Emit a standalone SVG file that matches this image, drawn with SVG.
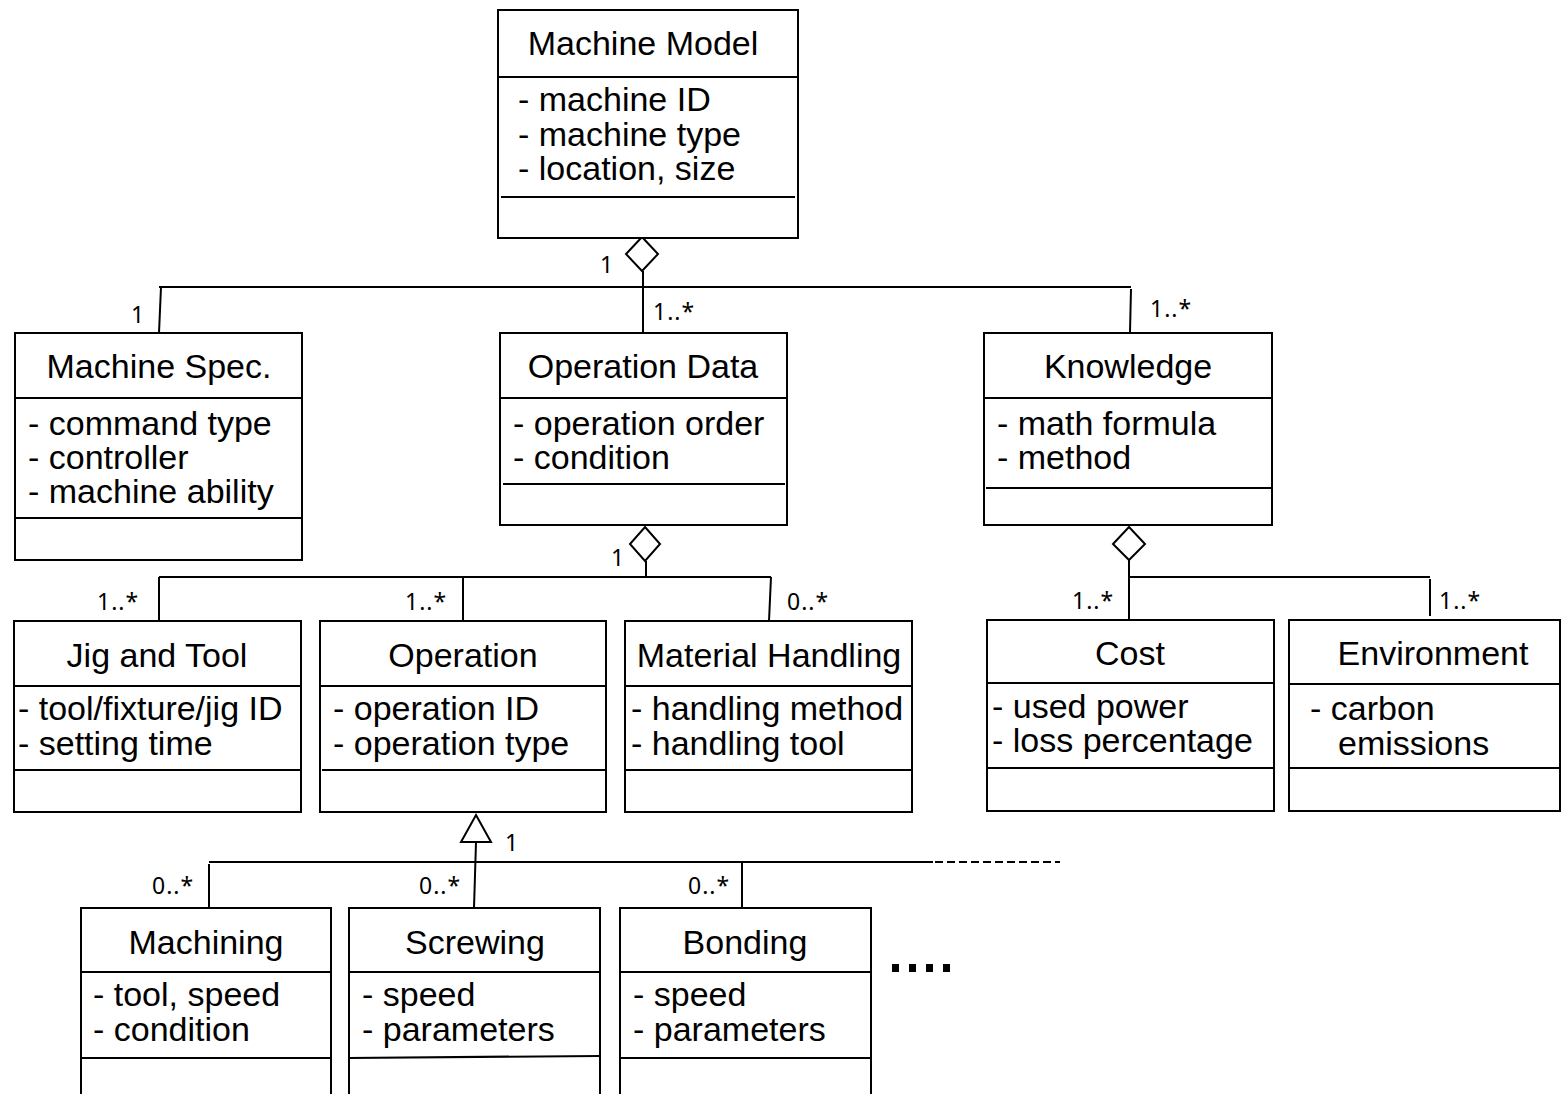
<svg xmlns="http://www.w3.org/2000/svg" width="1561" height="1094" viewBox="0 0 1561 1094">
<style>
.box{fill:#fff;stroke:#000;stroke-width:2}
.dv{stroke:#000;stroke-width:2.2}
.ln{stroke:#000;stroke-width:2;fill:none}
.t{font-family:"Liberation Sans",Arial,sans-serif;font-size:34px;fill:#000}
.c{text-anchor:middle}
.m{font-family:"Noto Sans","Liberation Sans",sans-serif;font-size:23px;fill:#000;letter-spacing:1px}
.hd{fill:#fff;stroke:#000;stroke-width:2}
</style>
<rect width="1561" height="1094" fill="#fff"/>

<g id="connectors">
  <!-- Machine Model aggregation -->
  <polygon class="hd" points="642,237 658,254 642,271 626,254"/>
  <line class="ln" x1="643" y1="271" x2="643" y2="333"/>
  <line class="ln" x1="159" y1="287" x2="1131" y2="287"/>
  <line class="ln" x1="161" y1="287" x2="159" y2="333"/>
  <line class="ln" x1="1131" y1="289" x2="1130" y2="332"/>
  <!-- Operation Data aggregation -->
  <polygon class="hd" points="645,527 660,544 645,561 630,544"/>
  <line class="ln" x1="646" y1="561" x2="646" y2="577"/>
  <line class="ln" x1="159" y1="577" x2="771" y2="577"/>
  <line class="ln" x1="159" y1="577" x2="159" y2="621"/>
  <line class="ln" x1="463" y1="577" x2="463" y2="621"/>
  <line class="ln" x1="771" y1="577" x2="769" y2="621"/>
  <!-- Knowledge aggregation -->
  <polygon class="hd" points="1129,527 1145,544 1129,560 1113,544"/>
  <line class="ln" x1="1129" y1="560" x2="1129" y2="620"/>
  <line class="ln" x1="1129" y1="577" x2="1430" y2="577"/>
  <line class="ln" x1="1430" y1="579" x2="1430" y2="616"/>
  <!-- Generalization -->
  <polygon class="hd" points="476,815 491,842 461,842"/>
  <line class="ln" x1="476" y1="842" x2="474" y2="908"/>
  <line class="ln" x1="209" y1="862" x2="933" y2="862"/>
  <line class="ln" x1="935" y1="862" x2="1060" y2="862" stroke-dasharray="8,4"/>
  <line class="ln" x1="209" y1="864" x2="209" y2="908"/>
  <line class="ln" x1="742" y1="862" x2="742" y2="908"/>
  <!-- multiplicities -->
  <text class="m" x="131" y="323">1</text>
  <text class="m" x="600" y="273">1</text>
  <text class="m" x="653" y="320">1..*</text>
  <text class="m" x="1150" y="317">1..*</text>
  <text class="m" x="611" y="566">1</text>
  <text class="m" x="97" y="610">1..*</text>
  <text class="m" x="405" y="610">1..*</text>
  <text class="m" x="787" y="610">0..*</text>
  <text class="m" x="1072" y="609">1..*</text>
  <text class="m" x="1439" y="609">1..*</text>
  <text class="m" x="505" y="851">1</text>
  <text class="m" x="152" y="894">0..*</text>
  <text class="m" x="419" y="894">0..*</text>
  <text class="m" x="688" y="894">0..*</text>
</g>

<g id="machine-model">
  <rect class="box" x="498" y="10" width="300" height="228"/>
  <line class="dv" x1="498" y1="77" x2="798" y2="77"/>
  <line class="dv" x1="501" y1="197" x2="795" y2="197"/>
  <text class="t c" x="643" y="55">Machine Model</text>
  <text class="t" x="518" y="111">- machine ID</text>
  <text class="t" x="518" y="146">- machine type</text>
  <text class="t" x="518" y="180">- location, size</text>
</g>

<g id="machine-spec">
  <rect class="box" x="15" y="333" width="287" height="227"/>
  <line class="dv" x1="15" y1="398" x2="302" y2="398"/>
  <line class="dv" x1="15" y1="518" x2="303" y2="518"/>
  <text class="t c" x="159" y="378">Machine Spec.</text>
  <text class="t" x="28" y="435">- command type</text>
  <text class="t" x="28" y="469">- controller</text>
  <text class="t" x="28" y="503">- machine ability</text>
</g>

<g id="operation-data">
  <rect class="box" x="500" y="333" width="287" height="192"/>
  <line class="dv" x1="500" y1="398" x2="787" y2="398"/>
  <line class="dv" x1="503" y1="484" x2="785" y2="484"/>
  <text class="t c" x="643" y="378">Operation Data</text>
  <text class="t" x="513" y="435">- operation order</text>
  <text class="t" x="513" y="469">- condition</text>
</g>

<g id="knowledge">
  <rect class="box" x="984" y="333" width="288" height="192"/>
  <line class="dv" x1="984" y1="398" x2="1272" y2="398"/>
  <line class="dv" x1="986" y1="488" x2="1272" y2="488"/>
  <text class="t c" x="1128" y="378">Knowledge</text>
  <text class="t" x="997" y="435">- math formula</text>
  <text class="t" x="997" y="469">- method</text>
</g>

<g id="jig-and-tool">
  <rect class="box" x="14" y="621" width="287" height="191"/>
  <line class="dv" x1="14" y1="686" x2="301" y2="686"/>
  <line class="dv" x1="14" y1="770" x2="301" y2="770"/>
  <text class="t c" x="157" y="667">Jig and Tool</text>
  <text class="t" x="18" y="720">- tool/fixture/jig ID</text>
  <text class="t" x="18" y="755">- setting time</text>
</g>

<g id="operation">
  <rect class="box" x="320" y="621" width="286" height="191"/>
  <line class="dv" x1="320" y1="686" x2="606" y2="686"/>
  <line class="dv" x1="322" y1="770" x2="606" y2="770"/>
  <text class="t c" x="463" y="667">Operation</text>
  <text class="t" x="333" y="720">- operation ID</text>
  <text class="t" x="333" y="755">- operation type</text>
</g>

<g id="material-handling">
  <rect class="box" x="625" y="621" width="287" height="191"/>
  <line class="dv" x1="625" y1="686" x2="912" y2="686"/>
  <line class="dv" x1="625" y1="770" x2="912" y2="770"/>
  <text class="t c" x="769" y="667">Material Handling</text>
  <text class="t" x="631" y="720">- handling method</text>
  <text class="t" x="631" y="755">- handling tool</text>
</g>

<g id="cost">
  <rect class="box" x="987" y="620" width="287" height="191"/>
  <line class="dv" x1="987" y1="683" x2="1274" y2="683"/>
  <line class="dv" x1="987" y1="768" x2="1274" y2="768"/>
  <text class="t c" x="1130" y="665">Cost</text>
  <text class="t" x="992" y="718">- used power</text>
  <text class="t" x="992" y="752">- loss percentage</text>
</g>

<g id="environment">
  <rect class="box" x="1289" y="620" width="271" height="191"/>
  <line class="dv" x1="1289" y1="684" x2="1560" y2="684"/>
  <line class="dv" x1="1289" y1="768" x2="1560" y2="768"/>
  <text class="t c" x="1433" y="665">Environment</text>
  <text class="t" x="1310" y="720">- carbon</text>
  <text class="t" x="1338" y="755">emissions</text>
</g>

<g id="machining">
  <rect class="box" x="81" y="908" width="250" height="200"/>
  <line class="dv" x1="81" y1="972" x2="331" y2="972"/>
  <line class="dv" x1="81" y1="1058" x2="331" y2="1058"/>
  <text class="t c" x="206" y="954">Machining</text>
  <text class="t" x="93" y="1006">- tool, speed</text>
  <text class="t" x="93" y="1041">- condition</text>
</g>

<g id="screwing">
  <rect class="box" x="349" y="908" width="251" height="200"/>
  <line class="dv" x1="349" y1="972" x2="600" y2="972"/>
  <line class="dv" x1="349" y1="1058" x2="600" y2="1056"/>
  <text class="t c" x="475" y="954">Screwing</text>
  <text class="t" x="362" y="1006">- speed</text>
  <text class="t" x="362" y="1041">- parameters</text>
</g>

<g id="bonding">
  <rect class="box" x="620" y="908" width="251" height="200"/>
  <line class="dv" x1="620" y1="972" x2="871" y2="972"/>
  <line class="dv" x1="620" y1="1058" x2="871" y2="1058"/>
  <text class="t c" x="745" y="954">Bonding</text>
  <text class="t" x="633" y="1006">- speed</text>
  <text class="t" x="633" y="1041">- parameters</text>
</g>

<g id="ellipsis">
  <rect x="892" y="964" width="7" height="8" fill="#000"/>
  <rect x="909" y="964" width="7" height="8" fill="#000"/>
  <rect x="926" y="964" width="7" height="8" fill="#000"/>
  <rect x="943" y="964" width="7" height="8" fill="#000"/>
</g>
</svg>
